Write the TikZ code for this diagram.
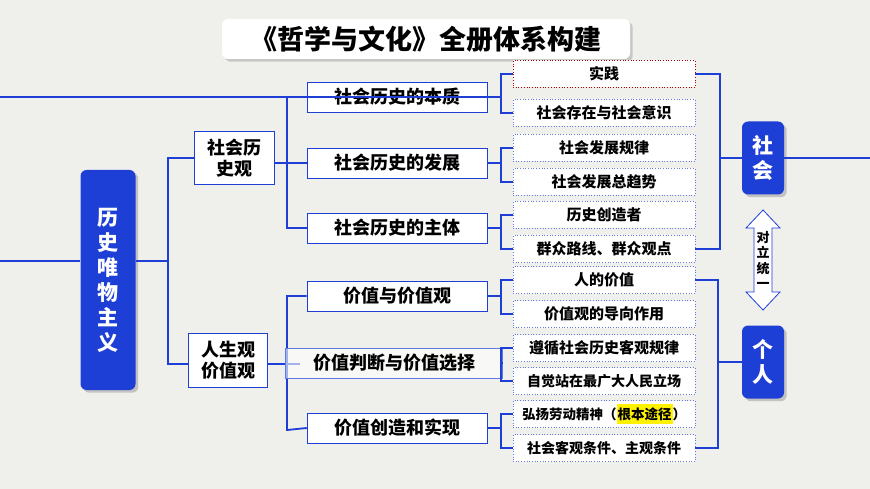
\documentclass[tikz,border=0pt]{standalone}
\usepackage{fontspec}
\setmainfont{Noto Sans CJK SC}
\usetikzlibrary{shadows}
\definecolor{lb}{HTML}{1E3FD6}
\definecolor{bg}{HTML}{EFEFEC}
\tikzset{
 ln/.style={draw=lb,line width=1.8pt},
 mid/.style={draw=lb,line width=0.6pt,fill=white,minimum width=180pt,minimum height=30pt,inner sep=1pt,font=\bfseries\fontsize{18}{20}\selectfont},
 leaf/.style={draw=lb!70,dotted,line width=0.7pt,fill=white,minimum width=182pt,minimum height=27pt,inner sep=1pt,font=\bfseries\fontsize{15}{17}\selectfont},
 big/.style={fill=lb,rounded corners=6pt,text=white,font=\bfseries\fontsize{21}{25}\selectfont,align=center,drop shadow={opacity=0.4}},
 mbox/.style={draw=lb,fill=white,line width=0.6pt,align=center,inner sep=1pt,font=\bfseries\fontsize{18}{21}\selectfont},
}
\begin{document}
\begin{tikzpicture}[x=1pt,y=-1pt]
\fill[bg] (0,0) rectangle (870,489);
\useasboundingbox (0,0) rectangle (870,489);
\node[fill=white,rounded corners=6pt,minimum width=408pt,minimum height=40pt,drop shadow={opacity=0.35},font=\bfseries\fontsize{27}{30}\selectfont] (title) at (426,39) {《哲学与文化》全册体系构建};
\node[big,minimum width=55pt,minimum height=220pt] (root) at (108,280) {历\\史\\唯\\物\\主\\义};
\coordinate (r0) at (0,261);
\draw[ln] (r0) -- (root.west|-r0);
\coordinate (rr) at (root.east|-r0);
\coordinate (j1) at (168,261);
\draw[ln] (rr) -- (j1);
\node[mbox,minimum width=80pt,minimum height=53pt] (sh) at (234,158) {社会历\\史观};
\node[mbox,minimum width=79pt,minimum height=54pt] (rs) at (228,360) {人生观\\价值观};
\draw[ln] (sh.west) -| (168,364) -- (rs.west|-0,364);
\node[mid] (m1) at (397,97) {社会历史的本质};
\node[mid] (m2) at (397,163) {社会历史的发展};
\node[mid] (m3) at (397,228) {社会历史的主体};
\node[mid] (m4) at (397,296) {价值与价值观};
\node[mid] (m6) at (397,428) {价值创造和实现};
\draw[ln] (m1.west) -| (287,228) -- (m3.west);
\draw[ln] (sh.east|-0,163) -- (m2.west);
\draw[ln] (m4.west) -| (287,430) -- (m6.west);
\draw[ln] (rs.east|-0,364) -- (300,364);
\node[mid,minimum width=217pt,draw=lb!70,fill=white,fill opacity=0.6,text opacity=1] (m5) at (394,363) {价值判断与价值选择};
\node[leaf,draw=red!70!black] (l1) at (604,74) {实践};
\node[leaf] (l2) at (604,113) {社会存在与社会意识};
\node[leaf] (l3) at (604,148) {社会发展规律};
\node[leaf] (l4) at (604,182) {社会发展总趋势};
\node[leaf] (l5) at (604,215) {历史创造者};
\node[leaf] (l6) at (604,249) {群众路线、群众观点};
\node[leaf] (l7) at (604,280) {人的价值};
\node[leaf] (l8) at (604,314) {价值观的导向作用};
\node[leaf] (l9) at (604,348) {遵循社会历史客观规律};
\node[leaf,font=\bfseries\fontsize{14}{16}\selectfont] (l10) at (604,381) {自觉站在最广大人民立场};
\node[leaf,font=\bfseries\fontsize{13.5}{15}\selectfont] (l11) at (604,414) {弘扬劳动精神（\colorbox{yellow}{\kern-2pt根本途径\kern-2pt}）};
\node[leaf,font=\bfseries\fontsize{14}{16}\selectfont] (l12) at (604,448) {社会客观条件、主观条件};
\foreach \m/\a/\b in {m1/l1/l2,m2/l3/l4,m3/l5/l6,m4/l7/l8,m5/l9/l10,m6/l11/l12}{
  \draw[ln] (\a.west) -- ++(-12,0) |- (\b.west);
  \draw[ln] (\m.east) -- (500,0|-\m.east);
}
\coordinate (t0) at (0,97);
\coordinate (t1) at (500,97);
\draw[ln] (t0) -- (t1);
\node[big,minimum width=42pt,minimum height=73pt] (soc) at (763,158) {社\\会};
\node[big,minimum width=42pt,minimum height=73pt] (ind) at (763,362) {个\\人};
\draw[ln] (l1.east) -- (720,0|-l1.east) |- (l6.east);
\draw[ln] (720,158) -- (soc.west);
\coordinate (re) at (870,158);
\draw[ln] (soc.east) -- (re);
\draw[ln] (l7.east) -- (718,0|-l7.east) |- (l12.east);
\draw[ln] (718,362) -- (ind.west);
\draw[draw=lb,line width=0.8pt,fill=white] (763,210) -- (780,228) -- (772,228) -- (772,292) -- (780,292) -- (763,310) -- (746,292) -- (754,292) -- (754,228) -- (746,228) -- cycle;
\node[font=\bfseries\fontsize{13}{15.5}\selectfont,align=center] (dl) at (763,260) {对\\立\\统\\一};
\end{tikzpicture}
\end{document}
